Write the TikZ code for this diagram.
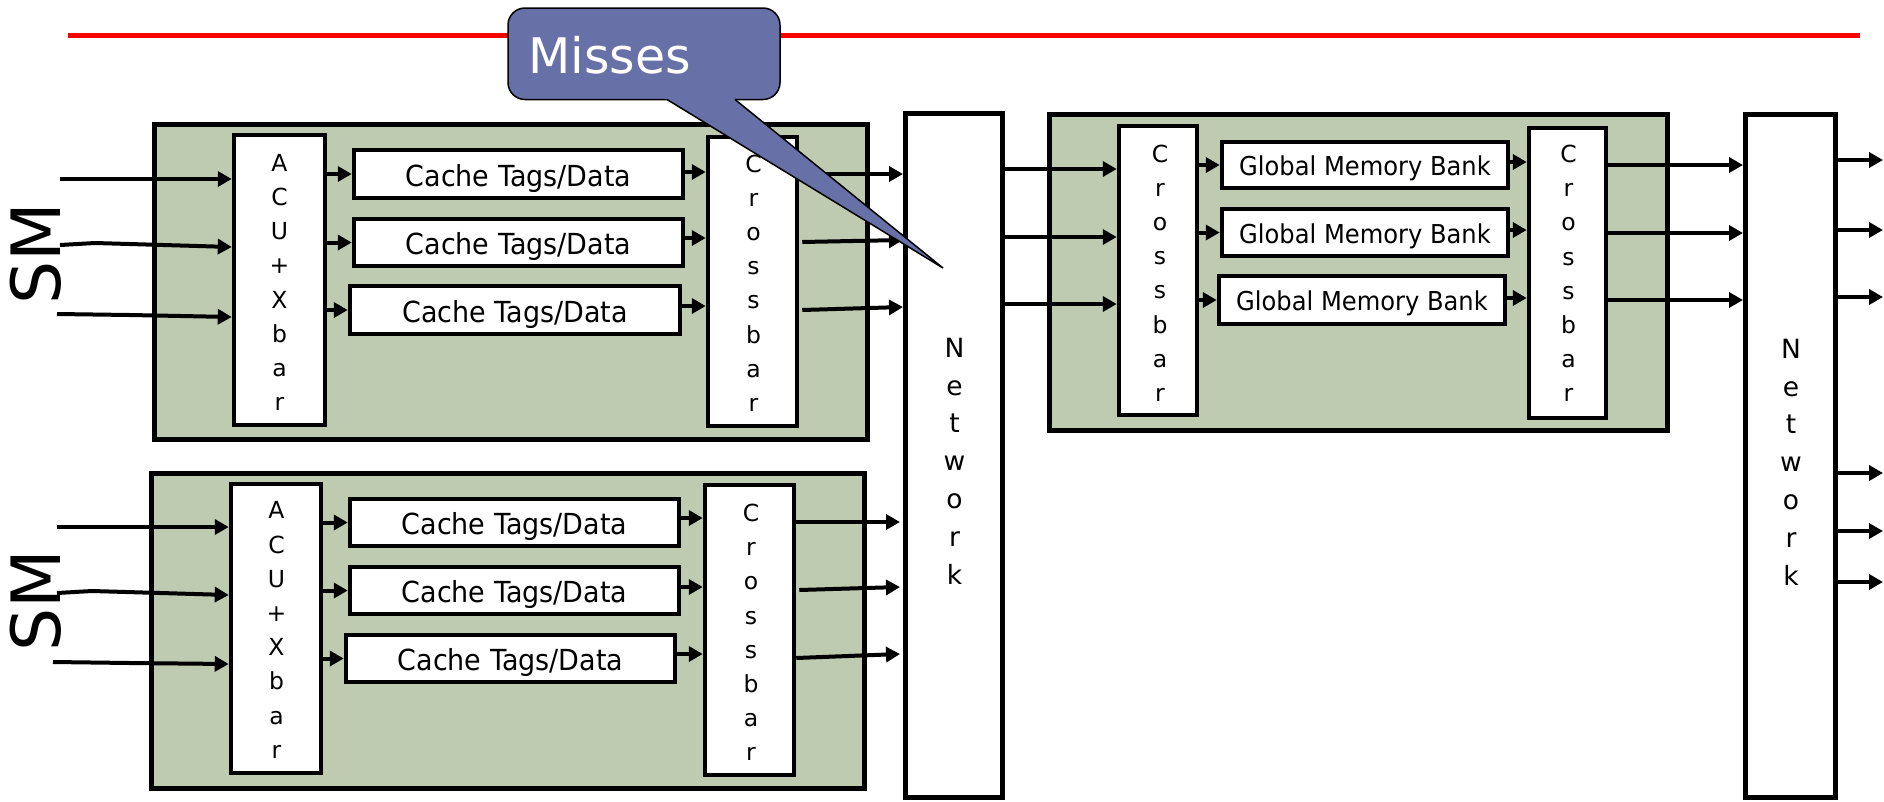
\documentclass[tikz,border=0pt]{standalone}
\usepackage{fontspec}
\setmainfont{DejaVu Sans}
\newfontfamily\condfont{DejaVu Sans}[FakeStretch=0.93]
\usetikzlibrary{arrows.meta,calc}
\definecolor{smgreen}{RGB}{190,203,176}
\definecolor{calloutblue}{RGB}{104,112,168}
\definecolor{redline}{RGB}{250,0,0}
\begin{document}
\begin{tikzpicture}[x=1pt,y=-1pt,
  outerbox/.style={draw=black, fill=smgreen, line width=5pt, inner sep=0pt},
  wbox/.style={draw=black, fill=white, line width=4.5pt, inner sep=0pt},
  netbox/.style={draw=black, fill=white, line width=5pt, inner sep=0pt},
  cachebox/.style={wbox, font=\condfont\fontsize{29}{34}\selectfont, text height=24pt, text depth=0pt},
  gmbbox/.style={wbox, font=\condfont\fontsize{26}{30}\selectfont, text height=21pt, text depth=0pt},
  vtext/.style={align=center, inner sep=0pt, font=\fontsize{23.5}{34.2}\selectfont},
  nettext/.style={align=center, inner sep=0pt, font=\fontsize{26.5}{37.8}\selectfont},
  arr/.style={line width=4pt, -{Triangle[length=14pt,width=15pt]}},
  smlabel/.style={rotate=90, anchor=base, inner sep=0pt, font=\fontsize{68}{80}\selectfont},
]
\useasboundingbox (0,0) rectangle (1884,801);

% red rule
\draw[redline, line width=5pt] (68,35) -- (1860,35);

% SM blocks
\node[outerbox, minimum width=713pt, minimum height=315pt] (smT) at (511,282) {};
\node[outerbox, minimum width=713pt, minimum height=315pt] (smB) at (508,631) {};
\node[smlabel] (smTl) at (60,254) {SM};
\node[smlabel] (smBl) at (60,601) {SM};

% top SM internals
\node[wbox, minimum width=91pt, minimum height=290pt] (acuT) at (279.5,280) {};
\node[vtext] (acuTt) at (279.5,282.5) {A\\C\\U\\+\\X\\b\\a\\r};
\node[cachebox, minimum width=329pt, minimum height=48pt] (cT1) at (518.5,174) {Cache Tags/Data};
\node[cachebox, minimum width=329pt, minimum height=47pt] (cT2) at (518.5,242.5) {Cache Tags/Data};
\node[cachebox, minimum width=330pt, minimum height=48pt] (cT3) at (515,310) {Cache Tags/Data};
\node[wbox, minimum width=89pt, minimum height=289pt] (xbT) at (752.5,281.5) {};
\node[vtext] (xbTt) at (753.5,283) {C\\r\\o\\s\\s\\b\\a\\r};

% bottom SM internals
\node[wbox, minimum width=90pt, minimum height=289pt] (acuB) at (276,628.5) {};
\node[vtext] (acuBt) at (276.5,630) {A\\C\\U\\+\\X\\b\\a\\r};
\node[cachebox, minimum width=329pt, minimum height=47pt] (cB1) at (514.5,522.5) {Cache Tags/Data};
\node[cachebox, minimum width=329pt, minimum height=47pt] (cB2) at (514.5,590.5) {Cache Tags/Data};
\node[cachebox, minimum width=329pt, minimum height=47pt] (cB3) at (510.5,658.5) {Cache Tags/Data};
\node[wbox, minimum width=89pt, minimum height=290pt] (xbB) at (749.5,630) {};
\node[vtext] (xbBt) at (751,632.5) {C\\r\\o\\s\\s\\b\\a\\r};

% networks
\node[netbox, minimum width=97pt, minimum height=683.5pt] (net1) at (954,455.25) {};
\node[nettext] (net1t) at (954.5,461) {N\\e\\t\\w\\o\\r\\k};
\node[netbox, minimum width=90pt, minimum height=682.5pt] (net2) at (1790.5,455.75) {};
\node[nettext] (net2t) at (1791,462) {N\\e\\t\\w\\o\\r\\k};

% global memory block
\node[outerbox, minimum width=618pt, minimum height=316pt] (gm) at (1358.5,272.5) {};
\node[wbox, minimum width=78pt, minimum height=289pt] (xbL) at (1158,270.5) {};
\node[vtext] (xbLt) at (1160,273) {C\\r\\o\\s\\s\\b\\a\\r};
\node[gmbbox, minimum width=286pt, minimum height=46pt] (g1) at (1365,165) {Global Memory Bank};
\node[gmbbox, minimum width=286pt, minimum height=47pt] (g2) at (1365,232.5) {Global Memory Bank};
\node[gmbbox, minimum width=286pt, minimum height=48pt] (g3) at (1362,300) {Global Memory Bank};
\node[wbox, minimum width=77pt, minimum height=290pt] (xbR) at (1567.5,273) {};
\node[vtext] (xbRt) at (1568.5,273.5) {C\\r\\o\\s\\s\\b\\a\\r};

% ---- connectors: top SM ----
\coordinate (iT1) at (60,179);
\coordinate (iT2) at (60,245); \coordinate (kT2) at (95,243); \coordinate (eT2) at (0,247);
\coordinate (iT3) at (57,314); \coordinate (kT3) at (130,315); \coordinate (eT3) at (0,317);
\draw[arr] (iT1) -- (acuT.west |- iT1);
\draw[arr] (iT2) -- (kT2) -- (acuT.west |- eT2);
\draw[arr] (iT3) -- (kT3) -- (acuT.west |- eT3);
\foreach \i in {1,2,3} {\draw[arr] (acuT.east |- cT\i.west) -- (cT\i.west);}
\draw[arr] ($(cT1.east)+(0,-2)$) -- ($(cT1.east -| xbT.west)+(0,-2)$);
\draw[arr] ($(cT2.east)+(0,-4.5)$) -- ($(cT2.east -| xbT.west)+(0,-4.5)$);
\draw[arr] ($(cT3.east)+(0,-4)$) -- ($(cT3.east -| xbT.west)+(0,-4)$);
\draw[arr] (xbT.east |- 0,174) -- (net1.west |- 0,174);
\draw[arr] ($(xbT.east |- 0,242)+(3,0)$) -- (net1.west |- 0,240);
\draw[arr] ($(xbT.east |- 0,310)+(3,0)$) -- (net1.west |- 0,307);

% ---- connectors: bottom SM ----
\coordinate (iB1) at (57,527);
\coordinate (iB2) at (57,593); \coordinate (kB2) at (92,591); \coordinate (eB2) at (0,595);
\coordinate (iB3) at (53,662); \coordinate (kB3) at (130,663); \coordinate (eB3) at (0,664);
\draw[arr] (iB1) -- (acuB.west |- iB1);
\draw[arr] (iB2) -- (kB2) -- (acuB.west |- eB2);
\draw[arr] (iB3) -- (kB3) -- (acuB.west |- eB3);
\foreach \i in {1,2,3} {\draw[arr] (acuB.east |- cB\i.west) -- (cB\i.west);}
\draw[arr] ($(cB1.east)+(0,-4.5)$) -- ($(cB1.east -| xbB.west)+(0,-4.5)$);
\draw[arr] ($(cB2.east)+(0,-3.5)$) -- ($(cB2.east -| xbB.west)+(0,-3.5)$);
\draw[arr] ($(cB3.east)+(0,-4.5)$) -- ($(cB3.east -| xbB.west)+(0,-4.5)$);
\draw[arr] (xbB.east |- 0,522) -- ($(net1.west |- 0,522)+(-3,0)$);
\draw[arr] ($(xbB.east |- 0,590)+(3,0)$) -- ($(net1.west |- 0,587)+(-3,0)$);
\draw[arr] (xbB.east |- 0,658) -- ($(net1.west |- 0,654)+(-3,0)$);

% ---- connectors: global memory ----
\draw[arr] (net1.east |- 0,169) -- (xbL.west |- 0,169);
\draw[arr] (net1.east |- 0,237) -- (xbL.west |- 0,237);
\draw[arr] (net1.east |- 0,304) -- (xbL.west |- 0,304);
\foreach \i in {1,2,3} {\draw[arr] (xbL.east |- g\i.west) -- (g\i.west);}
\draw[arr] ($(g1.east)+(0,-3)$) -- ($(g1.east -| xbR.west)+(0,-3)$);
\draw[arr] ($(g2.east)+(0,-2.5)$) -- ($(g2.east -| xbR.west)+(0,-2.5)$);
\draw[arr] ($(g3.east)+(0,-2)$) -- ($(g3.east -| xbR.west)+(0,-2)$);
\draw[arr] (xbR.east |- 0,165) -- (net2.west |- 0,165);
\draw[arr] (xbR.east |- 0,233) -- (net2.west |- 0,233);
\draw[arr] (xbR.east |- 0,300) -- (net2.west |- 0,300);

% ---- network 2 outputs ----
\foreach \n/\y in {1/160,2/230,3/297,4/473,5/531,6/582} {
  \coordinate (o\n) at (1883,\y);
  \draw[arr] (net2.east |- o\n) -- (o\n);
}

% ---- callout ----
\filldraw[fill=calloutblue, draw=black, line width=1.5pt, rounded corners=17pt] (508,8) rectangle (780,99.5);
\fill[calloutblue] (659.6,95) -- (729.4,95) -- (943,268) -- cycle;
\draw[line width=1.5pt] (667,99.5) -- (943,268) -- (735,99.5);
\node[anchor=base west, inner sep=0pt, text=white, font=\fontsize{49}{58}\selectfont] (misses) at (528,73) {Misses};
\end{tikzpicture}
\end{document}
